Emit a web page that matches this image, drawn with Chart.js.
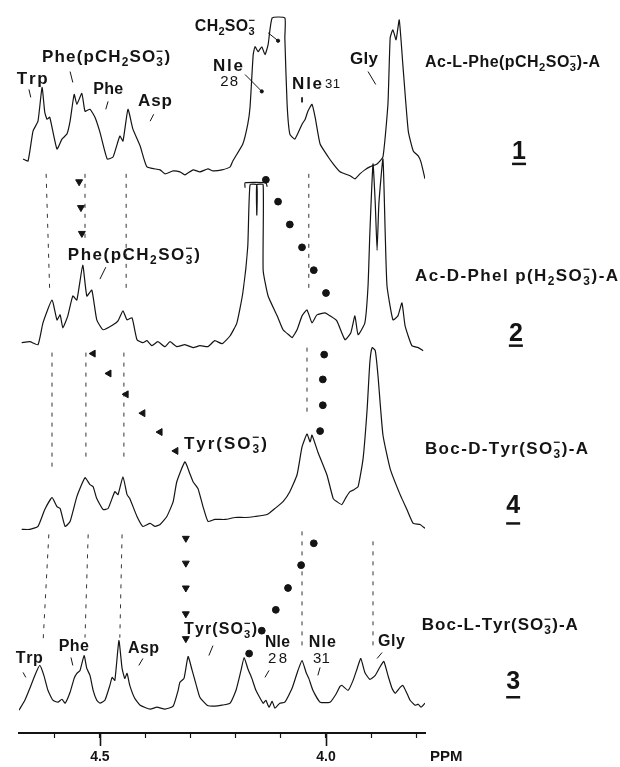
<!DOCTYPE html>
<html>
<head>
<meta charset="utf-8">
<script src="https://cdn.jsdelivr.net/npm/chart.js@4.4.1/dist/chart.umd.min.js"></script>
<style>
  html, body { margin: 0; padding: 0; background: #fff; }
  canvas { display: block; }
</style>
</head>
<body>
<canvas id="nmr" width="620" height="767"></canvas>
<script>
/* ----------------------------------------------------------------------------
                                     DATA
---------------------------------------------------------------------------- */
// chemical shift axis (ppm) ---------------------------------------------------
var ppmMax = 4.679;
var ppmMin = 3.781;
var tickValues = [4.6, 4.5, 4.4, 4.3, 4.2, 4.1, 4.0, 3.9, 3.8];
var majorTicks = [4.5, 4.0];

// spectrum 1 : Ac-L-Phe(pCH2SO3-)-A -------------------------------------------
var s1Ppm = [4.670, 4.659, 4.648, 4.637, 4.628, 4.622, 4.617, 4.611, 4.595, 4.584, 4.573, 4.566, 4.557, 4.551, 4.540, 4.533, 4.522, 4.511, 4.500, 4.484,
             4.471, 4.456, 4.449, 4.438, 4.427, 4.411, 4.396, 4.367, 4.356, 4.338, 4.323, 4.312, 4.294, 4.279, 4.261, 4.250, 4.230, 4.212, 4.206, 4.184,
             4.173, 4.168, 4.161, 4.157, 4.150, 4.142, 4.135, 4.128, 4.119, 4.091, 4.091, 4.086, 4.080, 4.069, 4.053, 4.046, 4.040, 4.031, 4.024, 4.013,
             3.995, 3.984, 3.969, 3.947, 3.936, 3.925, 3.914, 3.903, 3.887, 3.874, 3.863, 3.858, 3.852, 3.845, 3.838, 3.830, 3.818, 3.807, 3.796, 3.790, 3.781];
var s1Int = [12, 10, 40, 50, 84, 59, 52, 54, 22, 32, 37, 50, 77, 67, 78, 60, 62, 54, 39, 12,
             14, 35, 30, 62, 42, 25, 4, 1, -3, 0, -1, -4, 1, -1, 2, 0, 1, 4, 10, 27,
             47, 64, 117, 125, 120, 125, 117, 127, 154, 154, 134, 67, 37, 32, 47, 52, 60, 67, 54, 27,
             14, 7, -1, -5, -8, -3, 1, 4, 7, 14, 67, 134, 142, 132, 152, 107, 40, 20, 15, 9, -8];

// spectrum 2 : Ac-D-Phe(pCH2SO3-)-A -------------------------------------------
var s2Ppm = [4.673, 4.655, 4.637, 4.626, 4.606, 4.595, 4.588, 4.582, 4.571, 4.560, 4.551, 4.538, 4.529, 4.518, 4.507, 4.493, 4.471, 4.460, 4.449, 4.440,
             4.429, 4.418, 4.405, 4.396, 4.385, 4.372, 4.356, 4.345, 4.330, 4.312, 4.294, 4.279, 4.261, 4.246, 4.230, 4.212, 4.197, 4.184, 4.173, 4.168,
             4.153, 4.153, 4.153, 4.139, 4.139, 4.128, 4.108, 4.095, 4.080, 4.075, 4.064, 4.053, 4.042, 4.031, 4.020, 4.002, 3.991, 3.976, 3.958, 3.945,
             3.936, 3.929, 3.914, 3.907, 3.903, 3.896, 3.891, 3.887, 3.883, 3.874, 3.869, 3.865, 3.852, 3.841, 3.832, 3.825, 3.810, 3.796, 3.785];
var s2Int = [3, 4, 1, 23, 46, 26, 31, 18, 30, 50, 46, 81, 50, 56, 26, 16, 21, 25, 35, 26,
             28, 6, 3, 5, 0, 4, -1, 4, -1, 1, -2, 0, -1, 5, 2, 10, 23, 53, 100, 162,
             162, 131, 162, 162, 76, 50, 30, 16, 10, 8, 16, 30, 36, 23, 31, 33, 30, 25, 6, 13,
             30, 11, 23, 60, 113, 183, 143, 96, 143, 188, 113, 60, 26, 30, 43, 20, 0, -2, -5];
// off-scale bracket over the CH2SO3- peak of spectrum 2
var s2ClipPpm = [4.179, 4.179, 4.133, 4.130];
var s2ClipInt = [159, 164, 164, 160];

// spectrum 4 : Boc-D-Tyr(SO3-)-A ----------------------------------------------
var s4Ppm = [4.673, 4.655, 4.637, 4.622, 4.606, 4.595, 4.588, 4.577, 4.566, 4.551, 4.533, 4.522, 4.515, 4.507, 4.493, 4.482, 4.467, 4.460, 4.449, 4.440,
             4.434, 4.418, 4.405, 4.389, 4.378, 4.367, 4.352, 4.338, 4.330, 4.312, 4.301, 4.294, 4.283, 4.272, 4.261, 4.246, 4.223, 4.201, 4.179, 4.157,
             4.130, 4.113, 4.095, 4.080, 4.064, 4.053, 4.042, 4.035, 4.031, 4.018, 3.998, 3.984, 3.976, 3.965, 3.956, 3.947, 3.938, 3.929, 3.918, 3.909,
             3.903, 3.898, 3.891, 3.885, 3.874, 3.858, 3.836, 3.821, 3.807, 3.792, 3.781];
var s4Int = [-8, -8, -5, 12, 24, 15, 13, -5, 0, 25, 44, 37, 35, 23, 12, 13, 30, 27, 45, 27,
             23, 5, -5, -2, -5, -3, 5, 20, 40, 60, 48, 40, 33, 15, 0, 2, 2, 4, 4, 5,
             7, 13, 20, 30, 47, 75, 88, 80, 87, 70, 47, 23, 20, 17, 24, 30, 32, 35, 63, 113,
             160, 175, 172, 147, 87, 53, 27, 12, -2, -3, -7];

// spectrum 3 : Boc-L-Tyr(SO3-)-A ----------------------------------------------
var s3Ppm = [4.679, 4.666, 4.655, 4.644, 4.633, 4.624, 4.615, 4.604, 4.593, 4.584, 4.577, 4.566, 4.557, 4.551, 4.544, 4.535, 4.529, 4.522, 4.515, 4.507,
             4.500, 4.489, 4.478, 4.473, 4.467, 4.458, 4.451, 4.445, 4.440, 4.434, 4.423, 4.411, 4.389, 4.374, 4.356, 4.338, 4.327, 4.323, 4.314, 4.305,
             4.296, 4.288, 4.279, 4.263, 4.246, 4.230, 4.212, 4.199, 4.188, 4.181, 4.173, 4.164, 4.155, 4.139, 4.133, 4.126, 4.119, 4.113, 4.102, 4.091,
             4.075, 4.062, 4.053, 4.044, 4.038, 4.029, 4.013, 3.991, 3.978, 3.969, 3.965, 3.951, 3.940, 3.931, 3.923, 3.914, 3.903, 3.891, 3.880, 3.872,
             3.863, 3.854, 3.847, 3.836, 3.830, 3.821, 3.814, 3.803, 3.796, 3.790, 3.781];
var s3Int = [-2, 8, 20, 33, 43, 33, 18, 8, 6, 9, 5, 16, 30, 35, 38, 53, 40, 33, 18, 8,
             5, 8, 23, 31, 28, 68, 40, 30, 35, 23, 10, 3, -1, 1, -1, 2, 18, 26, 30, 52,
             38, 25, 11, 3, 2, 3, 5, 18, 38, 51, 40, 30, 18, 5, 8, 1, 7, 0, 5, 6,
             20, 38, 48, 36, 30, 18, 6, 6, 14, 22, 23, 18, 28, 40, 50, 36, 29, 33, 42, 47,
             33, 20, 15, 21, 23, 15, 8, 3, 4, 1, 5];

// shift-correlation markers (chart units) -------------------------------------
var triDown12Ppm = [4.546, 4.542, 4.540];
var triDown12Val = [555, 529, 503];
var dots12Ppm = [4.133, 4.106, 4.080, 4.053, 4.027, 4.000];
var dots12Val = [557, 535, 512, 489, 466, 443];
var triLeft24Ppm = [4.515, 4.480, 4.442, 4.405, 4.367, 4.332];
var triLeft24Val = [382, 362, 341, 322, 303, 284];
var dots24Ppm = [4.004, 4.007, 4.007, 4.013];
var dots24Val = [381, 356, 330, 304];
var triDown43Ppm = [4.310, 4.310, 4.310, 4.310, 4.310];
var triDown43Val = [196, 171, 146, 120, 95];
var dots43Ppm = [4.027, 4.055, 4.084, 4.111, 4.142, 4.170];
var dots43Val = [191, 169, 146, 124, 103, 80];

// dashed guides between spectra: [ppm top, val top, ppm bottom, val bottom] ---
var guides = [
    [4.619, 563, 4.611, 443], [4.533, 563, 4.533, 493], [4.442, 563, 4.442, 446], [4.038, 563, 4.038, 445],
    [4.606, 383, 4.606, 268], [4.531, 383, 4.531, 275], [4.447, 383, 4.447, 276], [4.042, 388, 4.042, 320],
    [4.613, 200, 4.626, 90], [4.526, 200, 4.533, 96], [4.451, 200, 4.456, 96], [4.053, 203, 4.053, 83], [3.896, 193, 3.896, 83]
];

// leader strokes from labels to peaks -----------------------------------------
var leaders = [
    [4.657, 648, 4.653, 640], [4.566, 666, 4.560, 655], [4.482, 636, 4.487, 628], [4.381, 623, 4.389, 616],
    [4.128, 705, 4.106, 697], [4.179, 663, 4.142, 646], [3.907, 666, 3.890, 653], [4.053, 640, 4.053, 635],
    [4.487, 469, 4.500, 457],
    [4.670, 61, 4.664, 56], [4.564, 76, 4.560, 68], [4.405, 75, 4.414, 68], [4.250, 88, 4.259, 78],
    [4.126, 63, 4.135, 56], [4.013, 66, 4.018, 58], [3.876, 81, 3.887, 75]
];
var leaderDots = [[4.106, 697], [4.142, 646]];

/* ----------------------------------------------------------------------------
                                    TEXTS
---------------------------------------------------------------------------- */
// t: text (_ sub, ^ sup), left edge ppm, middle val, width px, size, weight
var textLabels = [
    { t: 'Trp', p: 4.684, v: 658, w: 31, s: 17, b: 'bold' },
    { t: 'Phe(pCH_2SO_3^\u2212)', p: 4.628, v: 680, w: 128, s: 17, b: 'bold' },
    { t: 'Phe', p: 4.515, v: 648, w: 30, s: 17, b: 'bold' },
    { t: 'Asp', p: 4.416, v: 636, w: 34, s: 17, b: 'bold' },
    { t: 'CH_2SO_3^\u2212', p: 4.290, v: 711, w: 60, s: 17, b: 'bold' },
    { t: 'Nle', p: 4.250, v: 671, w: 30, s: 17, b: 'bold' },
    { t: '28', p: 4.234, v: 656, w: 18, s: 15, b: 'normal' },
    { t: 'Nle', p: 4.075, v: 653, w: 30, s: 17, b: 'bold' },
    { t: '31', p: 4.002, v: 653, w: 15, s: 15, b: 'normal' },
    { t: 'Gly', p: 3.947, v: 678, w: 28, s: 17, b: 'bold' },
    { t: 'Phe(pCH_2SO_3^\u2212)', p: 4.571, v: 481, w: 132, s: 17, b: 'bold' },
    { t: 'Tyr(SO_3^\u2212)', p: 4.314, v: 291, w: 83, s: 17, b: 'bold' },
    { t: 'Trp', p: 4.686, v: 75, w: 27, s: 16, b: 'bold' },
    { t: 'Phe', p: 4.591, v: 87, w: 30, s: 16, b: 'bold' },
    { t: 'Asp', p: 4.438, v: 85, w: 31, s: 16, b: 'bold' },
    { t: 'Tyr(SO_3^\u2212)', p: 4.314, v: 104, w: 73, s: 16, b: 'bold' },
    { t: 'Nle', p: 4.135, v: 91, w: 25, s: 16, b: 'bold' },
    { t: '28', p: 4.128, v: 75, w: 19, s: 15, b: 'normal' },
    { t: 'Nle', p: 4.038, v: 91, w: 27, s: 16, b: 'bold' },
    { t: '31', p: 4.029, v: 75, w: 17, s: 15, b: 'normal' },
    { t: 'Gly', p: 3.885, v: 92, w: 27, s: 16, b: 'bold' },
    { t: 'Ac-L-Phe(pCH_2SO_3^\u2212)-A', p: 3.781, v: 675, w: 175, s: 16, b: 'bold' },
    { t: 'Ac-D-Phel p(H_2SO_3^\u2212)-A', p: 3.803, v: 460, w: 203, s: 17, b: 'bold' },
    { t: 'Boc-D-Tyr(SO_3^\u2212)-A', p: 3.781, v: 286, w: 163, s: 17, b: 'bold' },
    { t: 'Boc-L-Tyr(SO_3^\u2212)-A', p: 3.788, v: 108, w: 156, s: 17, b: 'bold' }
];
// compound numbers: text, centre ppm, middle val, underline val
var compoundNumbers = [
    ['1', 3.573, 585, 573], ['2', 3.580, 402, 390], ['4', 3.586, 228, 211], ['3', 3.586, 51, 36]
];

var FONT = '"Liberation Sans", Arial, Helvetica, sans-serif';
var INK = '#141414';
var offsets = { s1: 566, s2: 390, s4: 213, s3: 25 };

/* ----------------------------------------------------------------------------
                                  FUNCTIONS
---------------------------------------------------------------------------- */
function pts(ppm, val, off) {
    return ppm.map(function (p, i) { return { x: p, y: val[i] + (off || 0) }; });
}

function spectrum(ppm, val, off) {
    return { data: pts(ppm, val, off), showLine: true, borderColor: INK, borderWidth: 1.2,
             pointRadius: 0, tension: 0.15, fill: false };
}

function markers(ppm, val, style, rot, r) {
    return { data: pts(ppm, val), showLine: false, pointStyle: style, rotation: rot,
             pointRadius: r, backgroundColor: INK, borderColor: INK, borderWidth: 1 };
}

function segment(g, dash) {
    return { data: [{ x: g[0], y: g[1] }, { x: g[2], y: g[3] }], showLine: true, borderColor: dash ? '#333' : INK,
             borderWidth: 1, borderDash: dash ? [4, 6] : [], pointRadius: 0, tension: 0 };
}

function parseRich(s) {
    var out = [];
    for (var i = 0; i < s.length; i++) {
        var c = s[i];
        if (c === '_') {
            var g = { sub: s[++i] };
            if (s[i + 1] === '^') { g.sup = s[i + 2]; i += 2; }
            out.push(g);
        } else if (c === '^') {
            out.push({ sup: s[++i] });
        } else {
            out.push({ ch: c });
        }
    }
    return out;
}

function glyphWidths(ctx, glyphs, size, weight) {
    var big = weight + ' ' + size.toFixed(1) + 'px ' + FONT;
    var small = weight + ' ' + (size * 0.7).toFixed(1) + 'px ' + FONT;
    return glyphs.map(function (g) {
        if (g.ch) { ctx.font = big; return ctx.measureText(g.ch).width; }
        ctx.font = small;
        return Math.max(g.sub ? ctx.measureText(g.sub).width : 0, g.sup ? ctx.measureText(g.sup).width : 0);
    });
}

function drawRich(ctx, str, x, y, size, weight, width) {
    var glyphs = parseRich(str);
    var minGap = 0.3;
    var widths = glyphWidths(ctx, glyphs, size, weight);
    var natural = widths.reduce(function (a, b) { return a + b; }, 0);
    // shrink the type a little when the printed label is tighter than the font
    if (width && natural + minGap * (glyphs.length - 1) > width) {
        size = size * (width - minGap * (glyphs.length - 1)) / natural;
        widths = glyphWidths(ctx, glyphs, size, weight);
        natural = widths.reduce(function (a, b) { return a + b; }, 0);
    }
    var gap = (width && glyphs.length > 1) ? (width - natural) / (glyphs.length - 1) : 0;
    var big = weight + ' ' + size.toFixed(1) + 'px ' + FONT;
    var small = weight + ' ' + (size * 0.7).toFixed(1) + 'px ' + FONT;
    var cx = x;
    ctx.textAlign = 'left';
    ctx.textBaseline = 'middle';
    glyphs.forEach(function (g, i) {
        if (g.ch) {
            ctx.font = big;
            ctx.fillText(g.ch, cx, y);
        } else {
            ctx.font = small;
            if (g.sub) ctx.fillText(g.sub, cx, y + size * 0.32);
            if (g.sup) ctx.fillText(g.sup, cx, y - size * 0.36);
        }
        cx += widths[i] + gap;
    });
}

/* ----------------------------------------------------------------------------
                                    MAIN
---------------------------------------------------------------------------- */
var datasets = [
    spectrum(s1Ppm, s1Int, offsets.s1),
    spectrum(s2Ppm, s2Int, offsets.s2),
    spectrum(s2ClipPpm, s2ClipInt, offsets.s2),
    spectrum(s4Ppm, s4Int, offsets.s4),
    spectrum(s3Ppm, s3Int, offsets.s3),
    markers(triDown12Ppm, triDown12Val, 'triangle', 180, 4),
    markers(dots12Ppm, dots12Val, 'circle', 0, 3.4),
    markers(triLeft24Ppm, triLeft24Val, 'triangle', 270, 4),
    markers(dots24Ppm, dots24Val, 'circle', 0, 3.4),
    markers(triDown43Ppm, triDown43Val, 'triangle', 180, 4),
    markers(dots43Ppm, dots43Val, 'circle', 0, 3.4),
    markers(leaderDots.map(function (d) { return d[0]; }), leaderDots.map(function (d) { return d[1]; }), 'circle', 0, 1.6)
];
guides.forEach(function (g) { datasets.push(segment(g, true)); });
leaders.forEach(function (g) { datasets.push(segment(g, false)); });

var annotations = {
    id: 'annotations',
    afterDraw: function (chart) {
        var ctx = chart.ctx, x = chart.scales.x, y = chart.scales.y, area = chart.chartArea;
        ctx.save();
        ctx.fillStyle = INK;
        ctx.strokeStyle = INK;

        // longer ticks at the labelled shifts
        ctx.lineWidth = 1.6;
        majorTicks.forEach(function (v) {
            var px = Math.round(x.getPixelForValue(v)) + 0.5;
            ctx.beginPath();
            ctx.moveTo(px, area.bottom);
            ctx.lineTo(px, area.bottom + 13);
            ctx.stroke();
        });

        // axis unit
        ctx.font = 'bold 15px ' + FONT;
        ctx.textAlign = 'left';
        ctx.textBaseline = 'middle';
        ctx.fillText('PPM', area.right + 5, area.bottom + 24);

        // peak assignments and compound names
        textLabels.forEach(function (l) {
            drawRich(ctx, l.t, x.getPixelForValue(l.p), y.getPixelForValue(l.v), l.s, l.b, l.w);
        });

        // underlined compound numbers
        compoundNumbers.forEach(function (n) {
            var cx = x.getPixelForValue(n[1]);
            ctx.font = 'bold 25px ' + FONT;
            ctx.textAlign = 'center';
            ctx.textBaseline = 'middle';
            ctx.fillText(n[0], cx, y.getPixelForValue(n[2]));
            ctx.lineWidth = 2.5;
            ctx.beginPath();
            ctx.moveTo(cx - 7, y.getPixelForValue(n[3]));
            ctx.lineTo(cx + 7, y.getPixelForValue(n[3]));
            ctx.stroke();
        });
        ctx.restore();
    }
};

var nmrChart = new Chart(document.getElementById('nmr').getContext('2d'), {
    type: 'scatter',
    data: { datasets: datasets },
    options: {
        animation: false,
        responsive: false,
        devicePixelRatio: 1,
        events: [],
        layout: { padding: { left: 19, right: 195, top: 0, bottom: 0 } },
        plugins: {
            legend: { display: false },
            tooltip: { enabled: false }
        },
        scales: {
            x: {
                type: 'linear',
                reverse: true,
                min: ppmMin,
                max: ppmMax,
                afterBuildTicks: function (s) {
                    s.ticks = tickValues.map(function (v) { return { value: v }; });
                },
                afterFit: function (s) { s.height = 34; },
                grid: { drawOnChartArea: false, drawTicks: true, tickLength: 5, tickColor: INK, tickWidth: 1.2 },
                border: { display: true, color: INK, width: 2 },
                ticks: {
                    autoSkip: false,
                    maxRotation: 0,
                    padding: 11,
                    color: INK,
                    font: { family: FONT, size: 14, weight: 'bold' },
                    callback: function (v) {
                        return majorTicks.some(function (m) { return Math.abs(m - v) < 1e-6; }) ? v.toFixed(1) : '';
                    }
                }
            },
            y: { display: false, min: 0, max: 733 }
        }
    },
    plugins: [annotations]
});
</script>
</body>
</html>
